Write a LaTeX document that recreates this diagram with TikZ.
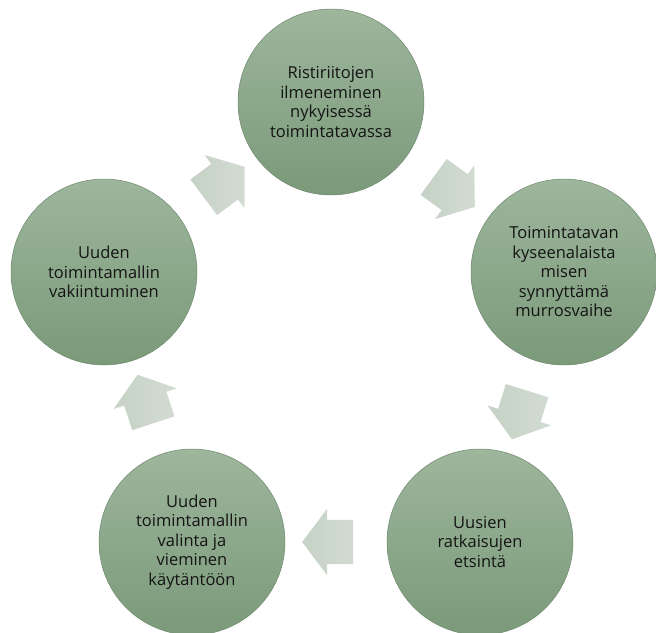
\documentclass[tikz,border=0pt]{standalone}
\usepackage{fontspec}
\setmainfont{Open Sans}
\usetikzlibrary{shapes.arrows}
\definecolor{circtop}{HTML}{9DB69C}
\definecolor{circbot}{HTML}{7B9A7A}
\definecolor{circline}{HTML}{6E876D}
\definecolor{arrA}{HTML}{C6D2C6}
\definecolor{arrB}{HTML}{D2DBD2}
\definecolor{txt}{HTML}{141414}
\tikzset{
  stage/.style={circle, minimum size=186pt, inner sep=0pt, top color=circtop, bottom color=circbot,
    draw=circline, line width=0.5pt, text=txt, align=center,
    font=\fontsize{16.5}{19.5}\selectfont},
  blockarrow/.style={single arrow, minimum height=51pt, inner xsep=0pt, inner ysep=22pt,
    single arrow head extend=11pt, single arrow tip angle=106, draw=none,
    left color=arrA, right color=arrB, allow upside down}
}
\begin{document}
\begin{tikzpicture}[x=1pt,y=-1pt]
\useasboundingbox (0,0) rectangle (656,632);
\clip (0,0) rectangle (656,632);
\node[stage] (top) at (331,102) {Ristiriitojen\\ilmeneminen\\nykyisessä\\toimintatavassa};
\node[stage] (right) at (564,272) {Toimintatavan\\kyseenalaista\\misen\\synnyttämä\\murrosvaihe};
\node[stage] (br) at (480,542) {Uusien\\ratkaisujen\\etsintä};
\node[stage] (bl) at (192,542) {Uuden\\toimintamallin\\valinta ja\\vieminen\\käytäntöön};
\node[stage] (left) at (104,272) {Uuden\\toimintamallin\\vakiintuminen};
\path (top.center) -- (right.center) node[blockarrow, midway, sloped] (a1) {};
\path (right.center) -- (br.center) node[blockarrow, midway, sloped] (a2) {};
\path (br.center) -- (bl.center) node[blockarrow, midway, sloped] (a3) {};
\path (bl.center) -- (left.center) node[blockarrow, midway, sloped] (a4) {};
\path (left.center) -- (top.center) node[blockarrow, midway, sloped] (a5) {};
\end{tikzpicture}
\end{document}
